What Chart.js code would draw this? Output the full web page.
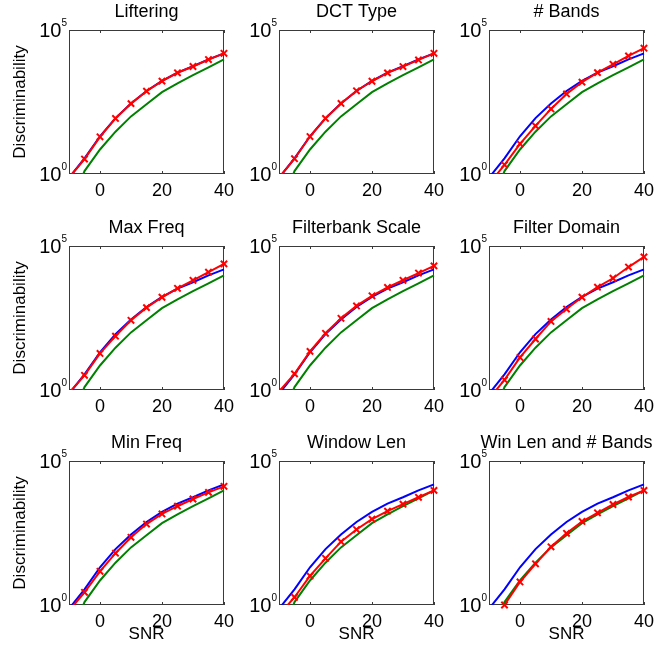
<!DOCTYPE html>
<html>
<head>
<meta charset="utf-8">
<script src="https://cdn.jsdelivr.net/npm/chart.js@4.4.0/dist/chart.umd.min.js"></script>
<style>
  body { margin: 0; background: #fff; }
  #fig { position: relative; width: 670px; height: 648px; overflow: hidden; }
  #fig canvas { position: absolute; }
</style>
</head>
<body>
<div id="fig"></div>
<script>
// SNR points shared by every panel
const snr = [-10, -5, 0, 5, 10, 15, 20, 25, 30, 35, 40];
const xTicks = [0, 20, 40];

const panelTitles = ['Liftering', 'DCT Type', '# Bands',
                     'Max Freq', 'Filterbank Scale', 'Filter Domain',
                     'Min Freq', 'Window Len', 'Win Len and # Bands'];

// baselines (same in every panel)
const greenBase = [0.063, 1.26, 7.1, 29.5, 100, 263, 692, 1410, 2690, 5010, 9550];
const blueBase  = [0.74, 3.5, 20.4, 87, 282, 760, 1700, 3300, 5500, 9550, 15500];

// red (x markers) series, one per panel
const redLiftering   = [0.74, 3.3, 19.5, 85, 278, 750, 1680, 3270, 5400, 9400, 15500];
const redDctType     = [0.74, 3.39, 20, 85, 282, 776, 1660, 3240, 5370, 9120, 15500];
const redBands       = [0.45, 2.09, 11.2, 46.8, 182, 603, 1550, 3310, 6460, 12600, 23400];
const redMaxFreq     = [0.79, 3.24, 18.6, 74, 263, 724, 1660, 3390, 6460, 12300, 24000];
const redFbScale     = [0.89, 3.63, 21.9, 93, 309, 832, 1860, 3630, 6460, 11500, 20400];
const redFiltDomain  = [0.5, 2.24, 13.5, 59, 240, 646, 1660, 3720, 7590, 18600, 41700];
const redMinFreq     = [0.63, 2.75, 14.8, 63, 224, 646, 1450, 2690, 4790, 8130, 13200];
const redWinLen      = [0.45, 1.86, 10.2, 41.7, 158, 417, 955, 1820, 3160, 5500, 9550];
const redWinLenBands = [null, 1.0, 6.3, 26.9, 105, 309, 794, 1585, 3090, 5620, 9550];

const redSeries = [redLiftering, redDctType, redBands, redMaxFreq, redFbScale,
                   redFiltDomain, redMinFreq, redWinLen, redWinLenBands];

const FONT = '"Liberation Sans", Arial, Helvetica, sans-serif';
const AXIS = '#3a3a3a';

// panel frame, inward ticks, title and 10^n labels, matlab style
const matlabAxes = {
  id: 'matlabAxes',
  beforeDatasetsDraw(chart) {
    const {ctx, chartArea: a, scales: {x}} = chart;
    ctx.save();
    ctx.strokeStyle = AXIS;
    ctx.lineWidth = 1;
    ctx.strokeRect(a.left + 0.5, a.top + 0.5, a.right - a.left - 1, a.bottom - a.top - 1);
    xTicks.forEach(v => {
      const px = Math.round(x.getPixelForValue(v)) + 0.5;
      ctx.beginPath();
      ctx.moveTo(px, a.bottom); ctx.lineTo(px, a.bottom - 3);
      ctx.moveTo(px, a.top); ctx.lineTo(px, a.top + 3);
      ctx.stroke();
    });
    ctx.restore();
  },
  afterDraw(chart, args, opts) {
    const {ctx, chartArea: a, scales: {y}} = chart;
    ctx.save();
    ctx.fillStyle = '#000';
    ctx.textAlign = 'center';
    ctx.textBaseline = 'middle';
    ctx.font = '18px ' + FONT;
    ctx.fillText(opts.title, (a.left + a.right) / 2, a.top - 18);

    [[1e5, '5'], [1, '0']].forEach(([v, e]) => {
      const py = y.getPixelForValue(v);
      ctx.font = '10px ' + FONT;
      const ew = ctx.measureText(e).width;
      const ex = a.left - 2 - ew;
      ctx.textAlign = 'left';
      ctx.textBaseline = 'alphabetic';
      ctx.fillText(e, ex, py - 4);
      ctx.font = '20px ' + FONT;
      ctx.textAlign = 'right';
      ctx.textBaseline = 'middle';
      ctx.fillText('10', ex, py + 1);
    });
    ctx.restore();
  }
};

const fig = document.getElementById('fig');
const colLeft = [0, 210, 420];
const rowTop = [0, 216, 431];

function toPoints(vals) {
  return snr.map((s, i) => ({x: s, y: vals[i]}));
}

panelTitles.forEach((title, i) => {
  const row = Math.floor(i / 3), col = i % 3;
  const canvas = document.createElement('canvas');
  canvas.width = 240;
  canvas.height = 216;
  canvas.style.left = colLeft[col] + 'px';
  canvas.style.top = rowTop[row] + 'px';
  fig.appendChild(canvas);

  new Chart(canvas, {
    type: 'line',
    data: {
      datasets: [{
        data: toPoints(redSeries[i]),
        borderColor: '#ff0000',
        borderWidth: 2,
        pointStyle: 'crossRot',
        pointRadius: 4.5,
        pointBorderColor: '#ff0000',
        pointBorderWidth: 2,
        clip: {left: 0, top: 8, right: 8, bottom: i === 8 ? 8 : 0}
      }, {
        data: toPoints(blueBase),
        borderColor: '#0000ff',
        borderWidth: 2,
        pointRadius: 0,
        clip: {left: 0, top: 0, right: 2, bottom: 0}
      }, {
        data: toPoints(greenBase),
        borderColor: '#008000',
        borderWidth: 2,
        pointRadius: 0,
        clip: {left: 0, top: 0, right: 2, bottom: 0}
      }]
    },
    options: {
      responsive: false,
      animation: false,
      devicePixelRatio: 1,
      events: [],
      layout: {padding: {top: 30, right: 16, bottom: 0, left: 0}},
      plugins: {
        legend: {display: false},
        tooltip: {enabled: false},
        matlabAxes: {title: title}
      },
      scales: {
        x: {
          type: 'linear', min: -10, max: 40,
          grid: {display: false, drawTicks: false},
          border: {display: false},
          afterBuildTicks: s => { s.ticks = xTicks.map(v => ({value: v})); },
          afterFit: s => { s.height = 42; },
          ticks: {font: {family: FONT, size: 18}, color: '#000', padding: 6, maxRotation: 0, autoSkip: false},
          title: {display: row === 2, text: 'SNR', color: '#000',
                  font: {family: FONT, size: 17}, padding: {top: 0, bottom: 2}}
        },
        y: {
          type: 'logarithmic', min: 1, max: 1e5,
          grid: {display: false, drawTicks: false},
          border: {display: false},
          ticks: {display: false},
          afterFit: s => { s.width = 69; },
          title: {display: col === 0, text: 'Discriminability', color: '#000',
                  font: {family: FONT, size: 17}, padding: {top: 10, bottom: 0}}
        }
      }
    },
    plugins: [matlabAxes]
  });
});
</script>
</body>
</html>
